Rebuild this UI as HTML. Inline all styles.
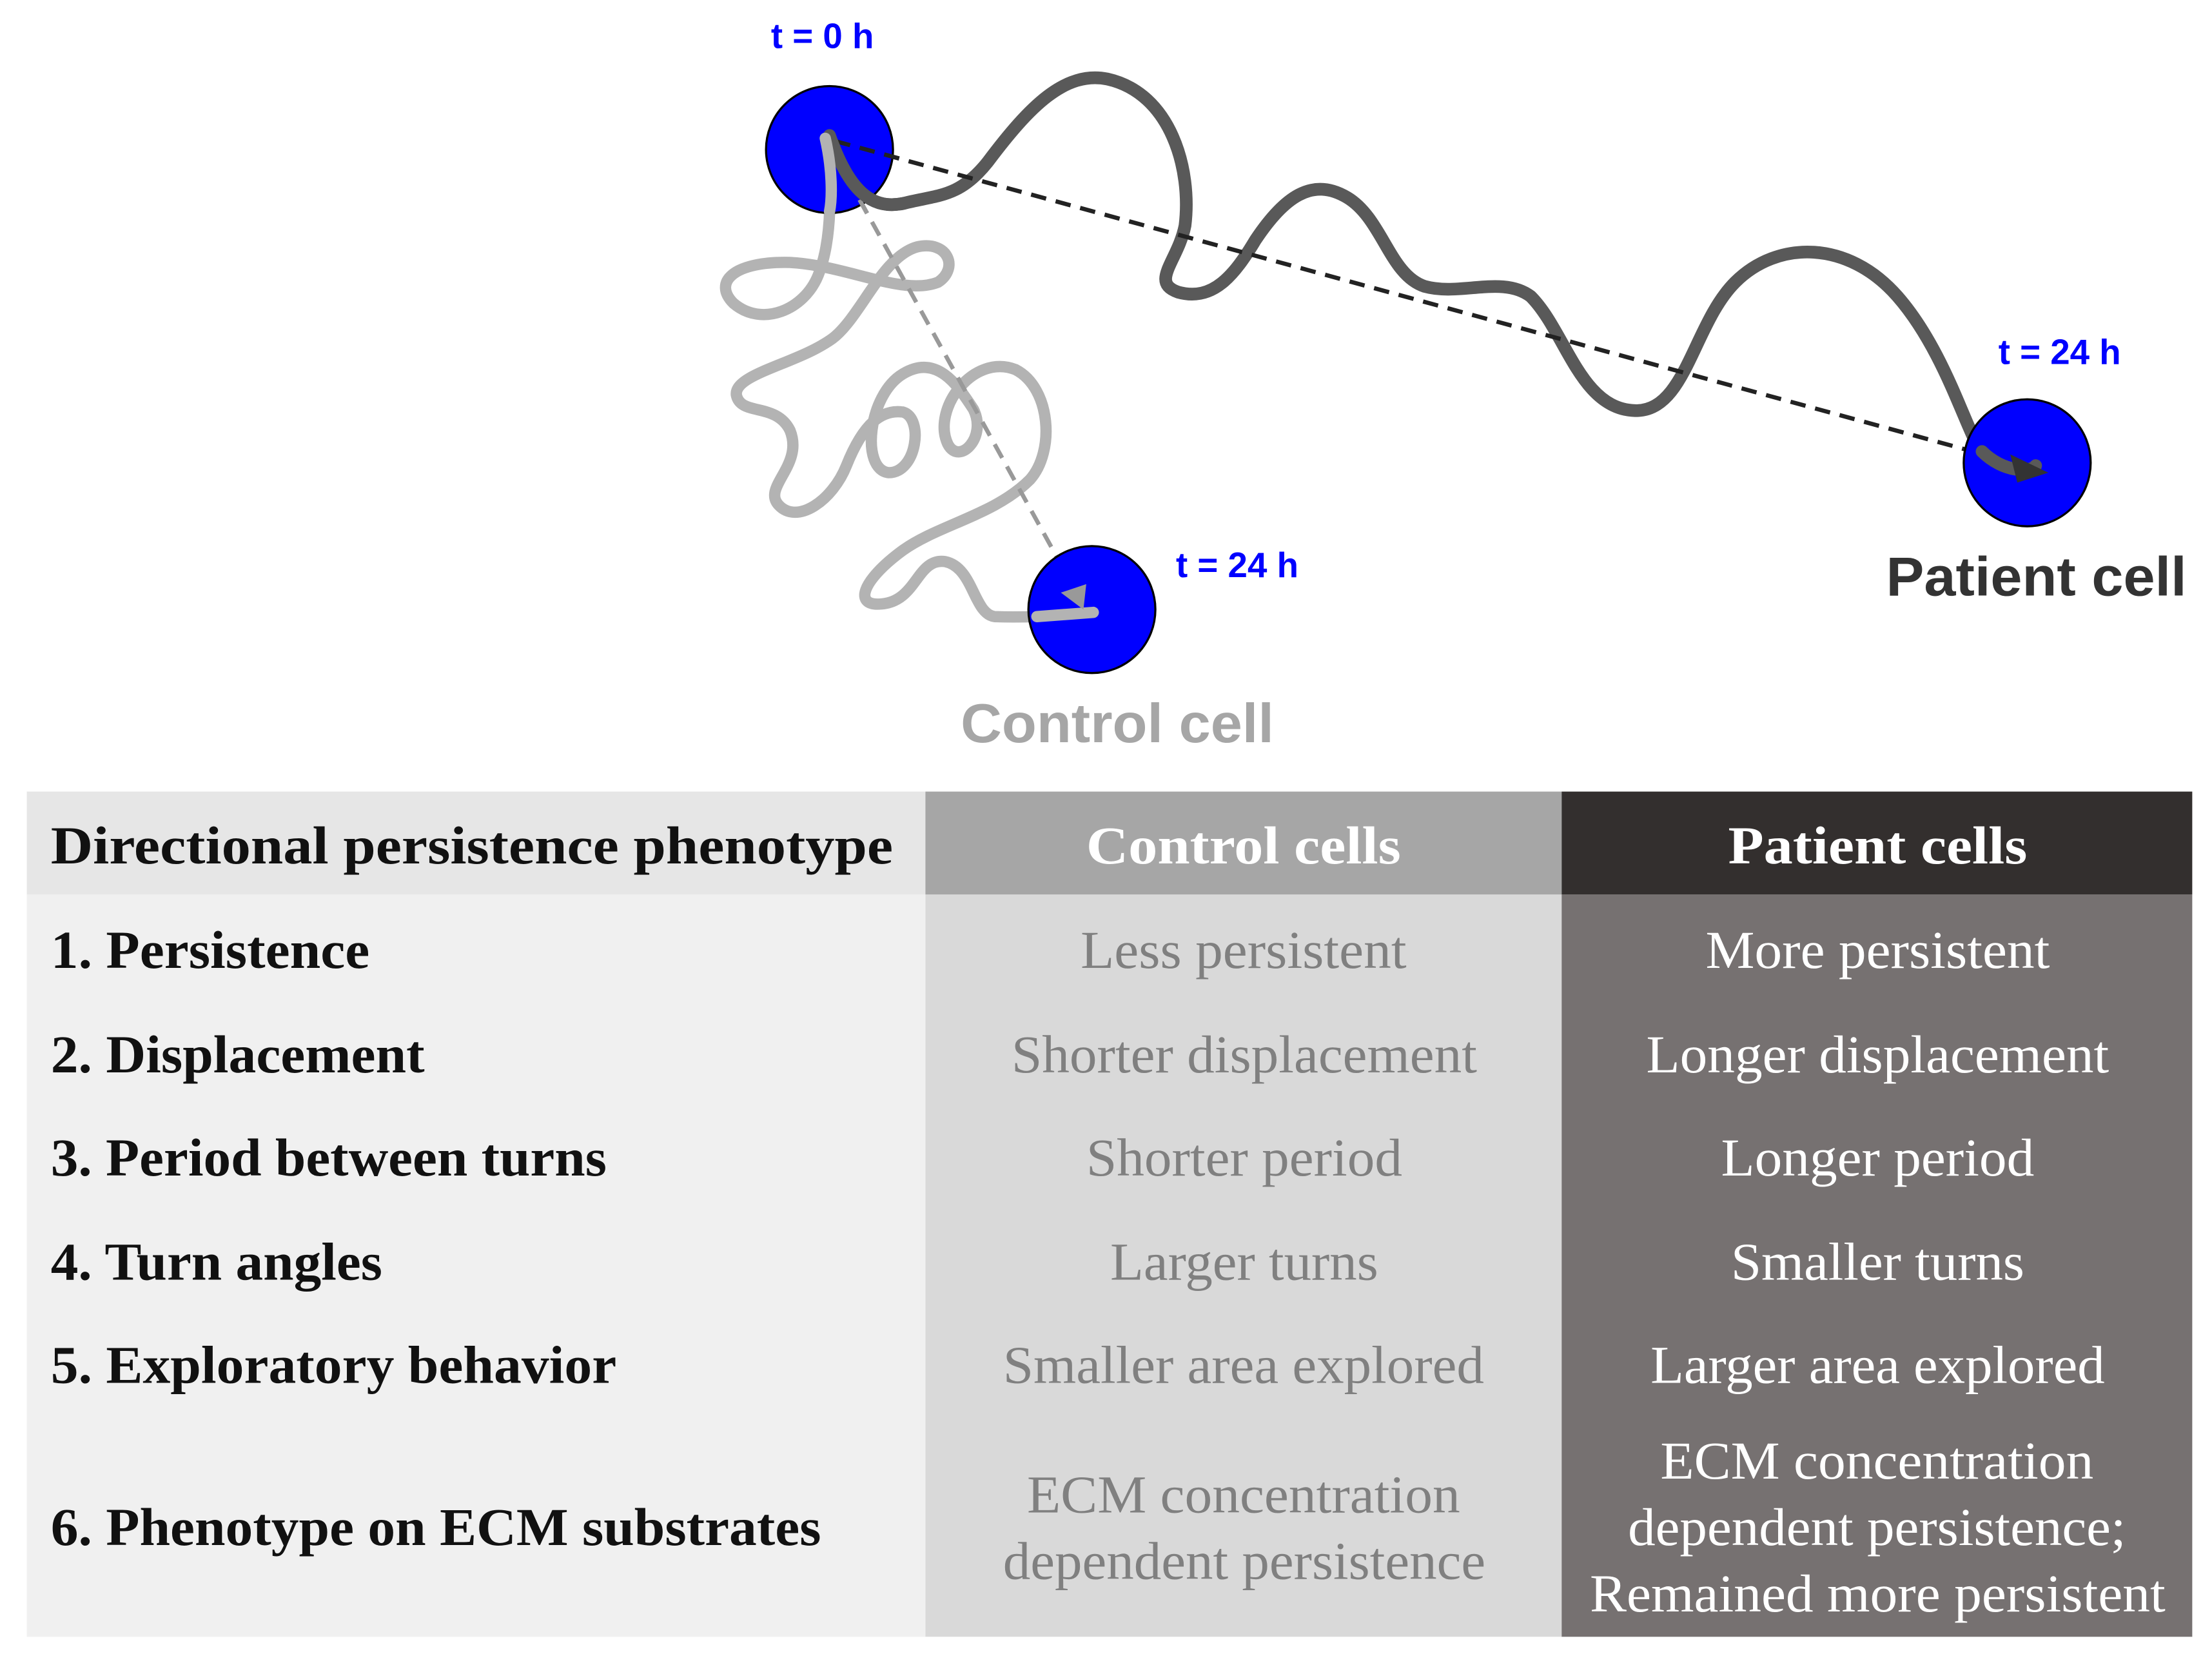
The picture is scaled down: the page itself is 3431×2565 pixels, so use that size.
<!DOCTYPE html>
<html><head><meta charset="utf-8"><style>
html,body{margin:0;padding:0;background:#fff}
svg{display:block}
</style></head><body>
<svg width="3431" height="2565" viewBox="0 0 1568 1172.2" preserveAspectRatio="none" xmlns="http://www.w3.org/2000/svg">
<rect width="1568" height="1173" fill="#fff"/>
<path d="M585,98 C590,130 590,170 580,195 C570,220 540,232 520,215 C505,200 520,185 560,186 C600,188 640,210 665,200 C680,190 672,170 650,175 C625,182 610,225 590,240 C565,258 520,265 522,280 C525,295 550,285 560,305 C570,330 540,345 552,358 C565,372 590,355 600,330 C612,300 625,290 640,292 C655,296 650,335 630,335 C610,333 615,280 640,265 C665,250 680,275 690,290 C700,310 680,330 672,315 C660,290 690,250 720,262 C745,275 748,320 730,340 C705,365 665,372 640,390 C610,412 605,430 625,428 C650,426 650,395 670,398 C690,402 690,435 705,437 C730,438 750,436 775,434" fill="none" stroke="#b3b3b3" stroke-width="8" stroke-linecap="round" stroke-linejoin="round"/>
<line x1="592" y1="110" x2="762" y2="418" stroke="#999" stroke-width="3" stroke-dasharray="11,7"/>
<path d="M588,96 C600,130 615,150 641,144 C665,138 680,140 700,115 C730,75 755,50 785,56 C830,66 845,120 840,160 C835,185 815,200 835,207 C860,214 875,195 890,170 C910,140 930,125 955,140 C980,155 985,195 1010,203 C1035,210 1065,195 1085,210 C1110,235 1120,290 1159,291 C1195,292 1200,230 1230,200 C1260,170 1310,170 1345,210 C1380,250 1395,310 1405,320 C1420,335 1440,335 1443,330" fill="none" stroke="#595959" stroke-width="9" stroke-linecap="round"/>
<line x1="592" y1="100" x2="1428" y2="328" stroke="#222" stroke-width="3" stroke-dasharray="11,7"/>
<circle cx="588" cy="106" r="45" fill="#0000ff" stroke="#000" stroke-width="1.5"/>
<circle cx="774" cy="432" r="45" fill="#0000ff" stroke="#000" stroke-width="1.5"/>
<circle cx="1437" cy="328" r="45" fill="#0000ff" stroke="#000" stroke-width="1.5"/>
<line x1="592" y1="100" x2="640" y2="113" stroke="#222" stroke-width="3" stroke-dasharray="11,7"/>
<line x1="592" y1="110" x2="615" y2="152" stroke="#999" stroke-width="3" stroke-dasharray="11,7"/>
<path d="M588,96 C600,130 615,150 641,144" fill="none" stroke="#595959" stroke-width="9" stroke-linecap="round"/>
<path d="M585,98 C590,120 590,140 588,150" fill="none" stroke="#b3b3b3" stroke-width="8" stroke-linecap="round"/>
<path d="M735,437 L775,434" fill="none" stroke="#b3b3b3" stroke-width="8" stroke-linecap="round"/>
<polygon points="752,420 770,414 768,432" fill="#999"/>
<path d="M1405,320 C1420,335 1440,335 1443,330" fill="none" stroke="#595959" stroke-width="9" stroke-linecap="round"/>
<polygon points="1452,335 1425,322 1430,342" fill="#333"/>
<g font-family="Liberation Sans, sans-serif" font-weight="bold">
<text x="583" y="34" font-size="25" fill="#0000ff" text-anchor="middle">t = 0 h</text>
<text x="877" y="409" font-size="25" fill="#0000ff" text-anchor="middle">t = 24 h</text>
<text x="1460" y="258" font-size="25" fill="#0000ff" text-anchor="middle">t = 24 h</text>
<text x="681" y="526" font-size="39" fill="#a6a6a6" textLength="222" lengthAdjust="spacingAndGlyphs">Control cell</text>
<text x="1337" y="422" font-size="39" fill="#333" textLength="213" lengthAdjust="spacingAndGlyphs">Patient cell</text>
</g>
<rect x="19" y="561" width="637" height="73" fill="#e6e6e6"/>
<rect x="656" y="561" width="451" height="73" fill="#a6a6a6"/>
<rect x="1107" y="561" width="447" height="73" fill="#332f2e"/>
<rect x="19" y="634" width="637" height="526" fill="#f0f0f0"/>
<rect x="656" y="634" width="451" height="526" fill="#d9d9d9"/>
<rect x="1107" y="634" width="447" height="526" fill="#767171"/>
<g font-family="Liberation Serif, serif" font-size="38" lengthAdjust="spacingAndGlyphs">
<text x="36" y="612" font-weight="bold" fill="#111" textLength="597" lengthAdjust="spacingAndGlyphs">Directional persistence phenotype</text>
<text x="770" y="612" font-weight="bold" fill="#fff" textLength="223" lengthAdjust="spacingAndGlyphs">Control cells</text>
<text x="1225" y="612" font-weight="bold" fill="#fff" textLength="212" lengthAdjust="spacingAndGlyphs">Patient cells</text>
<g font-weight="bold" fill="#111">
<text x="36" y="686" textLength="226" lengthAdjust="spacingAndGlyphs">1. Persistence</text>
<text x="36" y="760" textLength="265" lengthAdjust="spacingAndGlyphs">2. Displacement</text>
<text x="36" y="833" textLength="394" lengthAdjust="spacingAndGlyphs">3. Period between turns</text>
<text x="36" y="907" textLength="235" lengthAdjust="spacingAndGlyphs">4. Turn angles</text>
<text x="36" y="980" textLength="401" lengthAdjust="spacingAndGlyphs">5. Exploratory behavior</text>
<text x="36" y="1095" textLength="546" lengthAdjust="spacingAndGlyphs">6. Phenotype on ECM substrates</text>
</g>
<g fill="#808080">
<text x="766" y="686" textLength="231" lengthAdjust="spacingAndGlyphs">Less persistent</text>
<text x="717" y="760" textLength="330" lengthAdjust="spacingAndGlyphs">Shorter displacement</text>
<text x="770" y="833" textLength="224" lengthAdjust="spacingAndGlyphs">Shorter period</text>
<text x="787" y="907" textLength="190" lengthAdjust="spacingAndGlyphs">Larger turns</text>
<text x="711" y="980" textLength="341" lengthAdjust="spacingAndGlyphs">Smaller area explored</text>
<text x="728" y="1072" textLength="307" lengthAdjust="spacingAndGlyphs">ECM concentration</text>
<text x="711" y="1119" textLength="342" lengthAdjust="spacingAndGlyphs">dependent persistence</text>
</g>
<g fill="#fff">
<text x="1209" y="686" textLength="244" lengthAdjust="spacingAndGlyphs">More persistent</text>
<text x="1167" y="760" textLength="328" lengthAdjust="spacingAndGlyphs">Longer displacement</text>
<text x="1220" y="833" textLength="222" lengthAdjust="spacingAndGlyphs">Longer period</text>
<text x="1227" y="907" textLength="208" lengthAdjust="spacingAndGlyphs">Smaller turns</text>
<text x="1170" y="980" textLength="322" lengthAdjust="spacingAndGlyphs">Larger area explored</text>
<text x="1177" y="1048" textLength="307" lengthAdjust="spacingAndGlyphs">ECM concentration</text>
<text x="1154" y="1095" textLength="353" lengthAdjust="spacingAndGlyphs">dependent persistence;</text>
<text x="1127" y="1142" textLength="408" lengthAdjust="spacingAndGlyphs">Remained more persistent</text>
</g>
</g>
</svg>
</body></html>
